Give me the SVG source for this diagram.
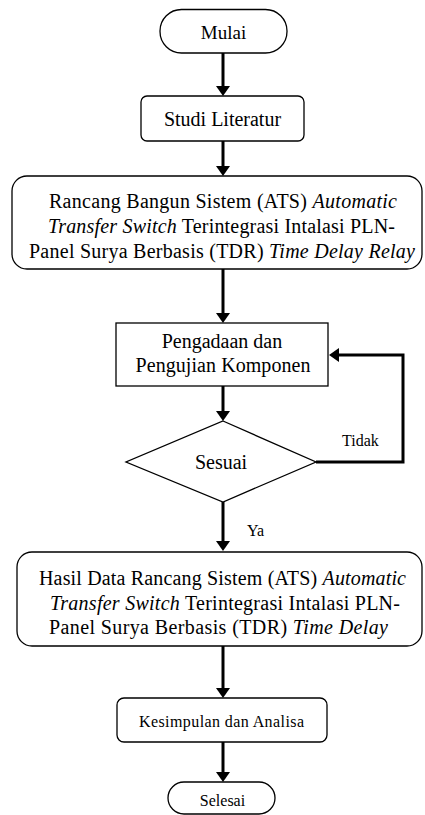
<svg xmlns="http://www.w3.org/2000/svg" width="425" height="815" viewBox="0 0 425 815">
  <style>
    .box { fill: #ffffff; stroke: #000000; stroke-width: 1.3; }
    .conn { fill: none; stroke: #000000; stroke-width: 3; }
    .t20 { font-size: 20px; text-anchor: middle; }
    .t19 { font-size: 19px; text-anchor: middle; }
    .t16 { font-size: 16px; text-anchor: middle; }
    .lbl { font-size: 16px; }
    .it { font-style: italic; }
  </style>
  <defs>
    <marker id="arrow" markerUnits="userSpaceOnUse" markerWidth="10" markerHeight="14" refX="0" refY="7" orient="auto">
      <path d="M0,0 L10,7 L0,14 Z" fill="#000000"/>
    </marker>
  </defs>

  <g font-family="'Liberation Serif', Tinos, 'Times New Roman', 'DejaVu Serif', serif" fill="#000000">

  <!-- connectors -->
  <g id="connectors">
    <line class="conn" x1="223" y1="53" x2="223" y2="86" marker-end="url(#arrow)"/>
    <line class="conn" x1="223" y1="141" x2="223" y2="166" marker-end="url(#arrow)"/>
    <line class="conn" x1="223" y1="269" x2="223" y2="313" marker-end="url(#arrow)"/>
    <line class="conn" x1="223" y1="386" x2="223" y2="411" marker-end="url(#arrow)"/>
    <polyline class="conn" points="316,462 403,462 403,355 339,355" marker-end="url(#arrow)"/>
    <line class="conn" x1="223" y1="502" x2="223" y2="541" marker-end="url(#arrow)"/>
    <line class="conn" x1="223" y1="646" x2="223" y2="688" marker-end="url(#arrow)"/>
    <line class="conn" x1="223" y1="742" x2="223" y2="772" marker-end="url(#arrow)"/>
    <text class="lbl" x="342" y="446">Tidak</text>
    <text class="lbl" x="247" y="536">Ya</text>
  </g>

  <g id="mulai">
    <rect class="box" x="160" y="9.5" width="127" height="43.5" rx="21.5" ry="21.5"/>
    <text class="t19" x="223.5" y="39">Mulai</text>
  </g>

  <g id="studi-literatur">
    <rect class="box" x="141" y="96" width="163" height="45" rx="6" ry="6"/>
    <text class="t20" x="222.5" y="126">Studi Literatur</text>
  </g>

  <g id="rancang-bangun">
    <rect class="box" x="12" y="176" width="410" height="93" rx="15" ry="15"/>
    <text class="t20" x="223" y="208" textLength="348" lengthAdjust="spacing">Rancang Bangun Sistem (ATS) <tspan class="it">Automatic</tspan></text>
    <text class="t20" x="221.5" y="233" textLength="347" lengthAdjust="spacing"><tspan class="it">Transfer Switch</tspan> Terintegrasi Intalasi PLN-</text>
    <text class="t20" x="222" y="258" textLength="386" lengthAdjust="spacing">Panel Surya Berbasis (TDR) <tspan class="it">Time Delay Relay</tspan></text>
  </g>

  <g id="pengadaan">
    <rect class="box" x="116" y="323" width="212" height="63"/>
    <text class="t20" x="222" y="348">Pengadaan dan</text>
    <text class="t20" x="223" y="372" textLength="175" lengthAdjust="spacing">Pengujian Komponen</text>
  </g>

  <g id="sesuai">
    <polygon class="box" points="223,421 316,462 223,502 126,462"/>
    <text class="t20" x="221" y="469">Sesuai</text>
  </g>

  <g id="hasil-data">
    <rect class="box" x="17" y="552" width="405" height="94" rx="15" ry="15"/>
    <text class="t20" x="222.5" y="585" textLength="367" lengthAdjust="spacing">Hasil Data Rancang Sistem (ATS) <tspan class="it">Automatic</tspan></text>
    <text class="t20" x="225" y="610" textLength="350" lengthAdjust="spacing"><tspan class="it">Transfer Switch</tspan> Terintegrasi Intalasi PLN-</text>
    <text class="t20" x="218.5" y="634" textLength="339" lengthAdjust="spacing">Panel Surya Berbasis (TDR) <tspan class="it">Time Delay</tspan></text>
  </g>

  <g id="kesimpulan">
    <rect class="box" x="117" y="698" width="210" height="44" rx="7" ry="7"/>
    <text class="t16" x="221.5" y="727" textLength="165" lengthAdjust="spacing">Kesimpulan  dan Analisa</text>
  </g>

  <g id="selesai">
    <rect class="box" x="168" y="782" width="107" height="32" rx="16" ry="16"/>
    <text class="t16" x="222.5" y="806">Selesai</text>
  </g>

  </g>
</svg>
